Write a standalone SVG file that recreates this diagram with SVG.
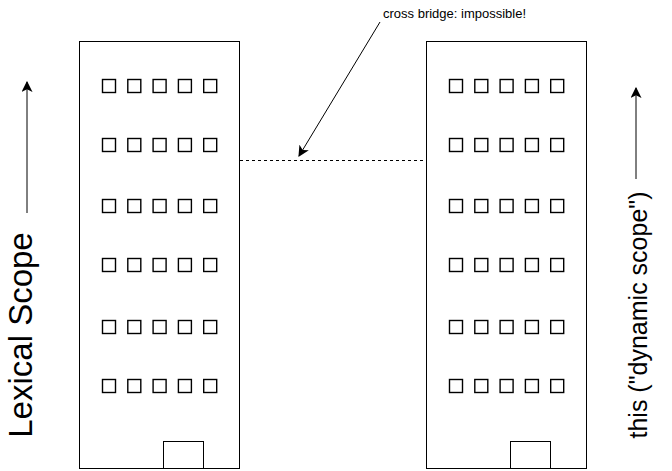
<svg xmlns="http://www.w3.org/2000/svg" width="672" height="471" viewBox="0 0 672 471">
<style>
.bld{fill:#fff;stroke:#000;stroke-width:1}
.win{fill:none;stroke:#000;stroke-width:1.4}
.door{fill:#fff;stroke:#000;stroke-width:1}
.lbl{font-family:"Liberation Sans",Arial,sans-serif;fill:#000}
.conn{fill:none;stroke:#000;stroke-width:1}
</style>
<defs>
<marker id="ah" viewBox="0 0 10 10" refX="9" refY="5" markerWidth="11" markerHeight="11" markerUnits="userSpaceOnUse" orient="auto">
<path d="M0,0 L10,5 L0,10 L2.5,5 Z" fill="#000"/>
</marker>
<g id="row">
<rect class="win" x="0" y="0" width="13" height="13"/>
<rect class="win" x="25.3" y="0" width="13" height="13"/>
<rect class="win" x="50.6" y="0" width="13" height="13"/>
<rect class="win" x="75.9" y="0" width="13" height="13"/>
<rect class="win" x="101.2" y="0" width="13" height="13"/>
</g>
</defs>
<rect width="672" height="471" fill="#fff"/>
<g id="left-building">
<rect class="bld" x="79.5" y="41.5" width="160" height="427"/>
<use href="#row" x="102.5" y="79.5"/>
<use href="#row" x="102.5" y="138.5"/>
<use href="#row" x="102.5" y="199.5"/>
<use href="#row" x="102.5" y="258.5"/>
<use href="#row" x="102.5" y="320.5"/>
<use href="#row" x="102.5" y="379.5"/>
<rect class="door" x="163.5" y="441.5" width="40" height="27"/>
</g>
<g id="right-building">
<rect class="bld" x="426.5" y="41.5" width="160" height="427"/>
<use href="#row" x="449.5" y="79.5"/>
<use href="#row" x="449.5" y="138.5"/>
<use href="#row" x="449.5" y="199.5"/>
<use href="#row" x="449.5" y="258.5"/>
<use href="#row" x="449.5" y="320.5"/>
<use href="#row" x="449.5" y="379.5"/>
<rect class="door" x="510.5" y="441.5" width="40" height="27"/>
</g>
<g id="connectors">
<line class="conn" x1="240" y1="160.5" x2="426" y2="160.5" stroke-dasharray="3,3"/>
<line class="conn" x1="380" y1="22" x2="299" y2="156" stroke="#222" marker-end="url(#ah)"/>
<line class="conn" x1="27" y1="213" x2="27" y2="82" stroke-width="1.5" marker-end="url(#ah)"/>
<line class="conn" x1="636" y1="179" x2="636" y2="88" stroke-width="1.5" marker-end="url(#ah)"/>
</g>
<g id="labels">
<text class="lbl" x="383" y="18" font-size="13">cross bridge: impossible!</text>
<text class="lbl" font-size="33" text-anchor="middle" transform="translate(32,335) rotate(-90)">Lexical Scope</text>
<text class="lbl" font-size="25" text-anchor="middle" transform="translate(647,315) rotate(-90)">this ("dynamic scope")</text>
</g>
</svg>
